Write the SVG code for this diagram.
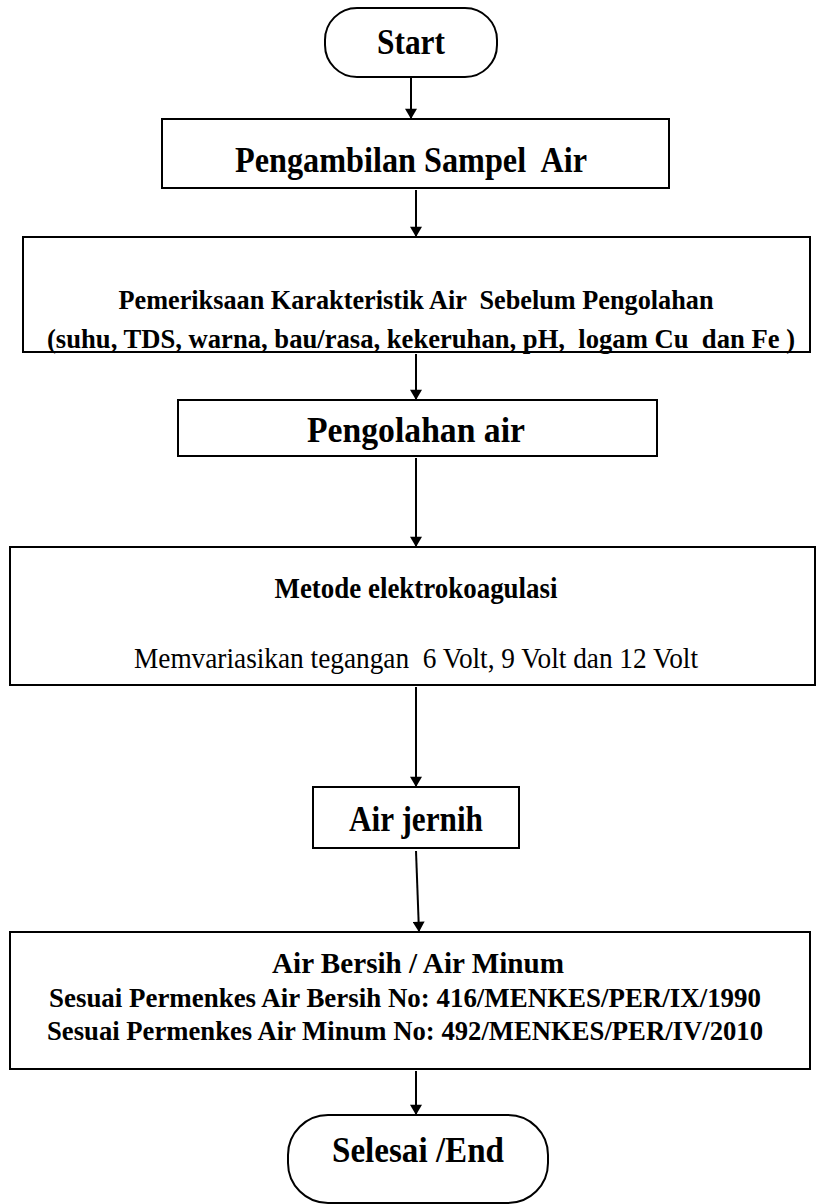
<svg xmlns="http://www.w3.org/2000/svg" width="822" height="1204" viewBox="0 0 822 1204">
<defs>
<marker id="ah" viewBox="0 0 12 14" refX="12" refY="7" markerWidth="14" markerHeight="12" markerUnits="userSpaceOnUse" orient="auto">
<path d="M0,0 L12,7 L0,14 Z" fill="#000"/>
</marker>
<style>
.box{fill:#fff;stroke:#000;stroke-width:2}
.t{font-family:"Liberation Serif","Times New Roman",serif;font-weight:bold;text-anchor:middle;fill:#000;white-space:pre}
.big{font-size:35px}
.mid{font-size:29px}
.sm{font-size:27.5px}
.reg{font-weight:normal}
.conn{stroke:#000;stroke-width:2;fill:none;marker-end:url(#ah)}
</style>
</defs>
<rect width="822" height="1204" fill="#fff"/>
<g id="connectors">
<line class="conn" x1="411" y1="78" x2="411" y2="119"/>
<line class="conn" x1="416" y1="190" x2="416" y2="237"/>
<line class="conn" x1="416" y1="354" x2="416" y2="400"/>
<line class="conn" x1="416" y1="458" x2="416" y2="547"/>
<line class="conn" x1="416" y1="687" x2="416" y2="787"/>
<line class="conn" x1="416" y1="851" x2="419" y2="932"/>
<line class="conn" x1="416" y1="1071" x2="416" y2="1115"/>
</g>
<g id="start">
<rect class="box" x="325" y="8" width="172" height="69" rx="32"/>
<text class="t big" x="411" y="54" textLength="68" lengthAdjust="spacingAndGlyphs">Start</text>
</g>
<g id="pengambilan">
<rect class="box" x="162" y="119" width="507" height="69"/>
<text class="t big" x="411" y="172" textLength="352" lengthAdjust="spacingAndGlyphs" xml:space="preserve">Pengambilan Sampel  Air</text>
</g>
<g id="pemeriksaan">
<rect class="box" x="23" y="237" width="787" height="115"/>
<text class="t sm" x="416" y="309" textLength="595" lengthAdjust="spacingAndGlyphs" xml:space="preserve">Pemeriksaan Karakteristik Air  Sebelum Pengolahan</text>
<text class="t sm" x="421" y="348" textLength="748" lengthAdjust="spacingAndGlyphs" xml:space="preserve">(suhu, TDS, warna, bau/rasa, kekeruhan, pH,  logam Cu  dan Fe )</text>
</g>
<g id="pengolahan">
<rect class="box" x="178" y="400" width="479" height="56"/>
<text class="t big" x="416" y="442" textLength="218" lengthAdjust="spacingAndGlyphs">Pengolahan air</text>
</g>
<g id="metode">
<rect class="box" x="10" y="547" width="805" height="138"/>
<text class="t mid" x="416" y="598" textLength="283" lengthAdjust="spacingAndGlyphs">Metode elektrokoagulasi</text>
<text class="t mid reg" x="416" y="668" textLength="564" lengthAdjust="spacingAndGlyphs" xml:space="preserve">Memvariasikan tegangan  6 Volt, 9 Volt dan 12 Volt</text>
</g>
<g id="air-jernih">
<rect class="box" x="313" y="787" width="206" height="61"/>
<text class="t big" x="416" y="831" textLength="134" lengthAdjust="spacingAndGlyphs">Air jernih</text>
</g>
<g id="air-bersih">
<rect class="box" x="10" y="932" width="800" height="137"/>
<text class="t mid" x="418" y="973" textLength="292" lengthAdjust="spacingAndGlyphs">Air Bersih / Air Minum</text>
<text class="t sm" x="405" y="1007" textLength="712" lengthAdjust="spacingAndGlyphs">Sesuai Permenkes Air Bersih No: 416/MENKES/PER/IX/1990</text>
<text class="t sm" x="405" y="1040" textLength="716" lengthAdjust="spacingAndGlyphs">Sesuai Permenkes Air Minum No: 492/MENKES/PER/IV/2010</text>
</g>
<g id="end">
<rect class="box" x="288" y="1115" width="260" height="88" rx="40"/>
<text class="t big" x="418" y="1162" textLength="172" lengthAdjust="spacingAndGlyphs">Selesai /End</text>
</g>
</svg>
